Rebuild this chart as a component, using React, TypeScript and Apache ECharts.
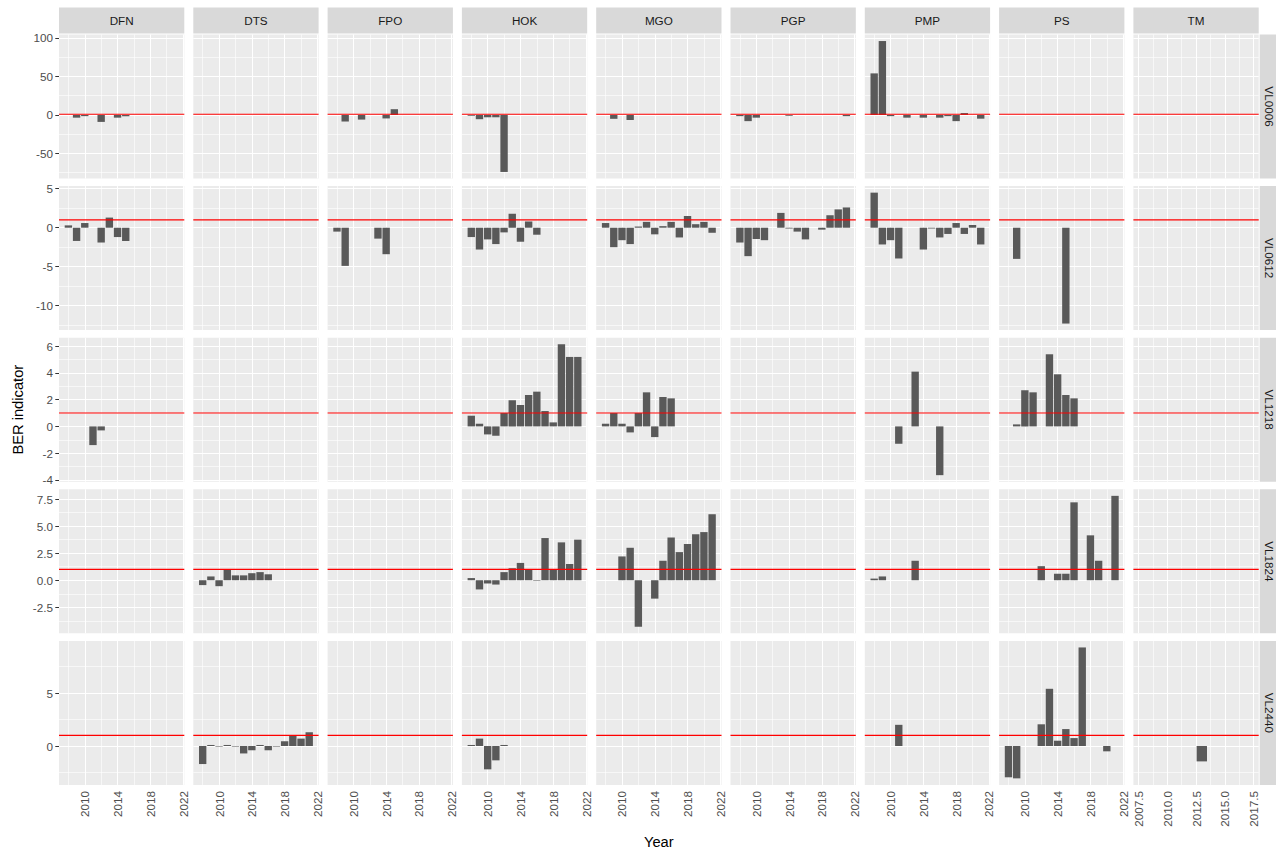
import React, { useEffect, useRef } from "react";
import * as echarts from "echarts";

// ---------- data ----------
const regions = ["DFN", "DTS", "FPO", "HOK", "MGO", "PGP", "PMP", "PS", "TM"];
const lengthClasses = ["VL0006", "VL0612", "VL1218", "VL1824", "VL2440"];
const years = [2008, 2009, 2010, 2011, 2012, 2013, 2014, 2015, 2016, 2017, 2018, 2019, 2020, 2021];
const tmYears = [2008, 2009, 2010, 2011, 2012, 2013, 2014, 2015, 2016, 2017];
const threshold = 1;

const xTicks = [2010, 2014, 2018, 2022];
const xMinor = [2008, 2012, 2016, 2020];
const tmTicks = [2007.5, 2010, 2012.5, 2015, 2017.5];
const tmMinor = [2008.75, 2011.25, 2013.75, 2016.25];

const yTicks = [
  [-50, 0, 50, 100],
  [-10, -5, 0, 5],
  [-4, -2, 0, 2, 4, 6],
  [-2.5, 0, 2.5, 5, 7.5],
  [0, 5],
];
const yMinor = [
  [-75, -25, 25, 75],
  [-12.5, -7.5, -2.5, 2.5],
  [-3, -1, 1, 3, 5],
  [-3.75, -1.25, 1.25, 3.75, 6.25],
  [-2.5, 2.5, 7.5],
];

const _ = null;
// VL0006 (years 2008..2021)
const vl0006_DFN = [_, -3.5, -1.5, _, -9, _, -3.5, -1.5, _, _, _, _, _, _];
const vl0006_FPO = [_, -8.5, _, -6, _, _, -4.5, 7.5, _, _, _, _, _, _];
const vl0006_HOK = [-1, -5.5, -3, -3, -74, _, _, _, _, _, _, _, _, _];
const vl0006_MGO = [_, -5, _, -6.5, _, _, _, _, _, _, _, _, _, _];
const vl0006_PGP = [-1.5, -8, -3.5, _, _, _, -1, _, _, _, _, _, _, -1.5];
const vl0006_PMP = [54, 96, -1.5, _, -3.5, _, -3.5, _, -3.5, -1.5, -8, 2.5, _, -4.8];
// VL0612
const vl0612_DFN = [0.3, -1.7, 0.6, _, -1.9, 1.3, -1.2, -1.7, _, _, _, _, _, _];
const vl0612_FPO = [-0.5, -4.9, _, _, _, -1.4, -3.4, _, _, _, _, _, _, _];
const vl0612_HOK = [-1.2, -2.8, -1.5, -2.1, -0.6, 1.8, -1.8, 0.8, -0.9, _, _, _, _, _];
const vl0612_MGO = [0.6, -2.5, -1.6, -2.1, 0.15, 0.75, -0.85, 0.2, 0.75, -1.25, 1.5, 0.45, 0.75, -0.65];
const vl0612_PGP = [-1.9, -3.65, -1.45, -1.6, _, 1.9, -0.1, -0.5, -1.5, _, -0.25, 1.6, 2.35, 2.6];
const vl0612_PMP = [4.5, -2.15, -1.6, -3.95, _, _, -2.8, -0.1, -1.25, -0.8, 0.6, -0.8, 0.35, -2.15];
const vl0612_PS = [_, -4.0, _, _, _, _, _, -12.3, _, _, _, _, _, _];
// VL1218
const vl1218_DFN = [_, _, _, -1.4, -0.3, _, _, _, _, _, _, _, _, _];
const vl1218_HOK = [0.8, 0.2, -0.6, -0.7, 1.0, 1.95, 1.6, 2.35, 2.6, 1.15, 0.3, 6.15, 5.2, 5.2];
const vl1218_MGO = [0.2, 1.0, 0.2, -0.45, 1.0, 2.55, -0.8, 2.2, 2.1, _, _, _, _, _];
const vl1218_PMP = [_, _, _, -1.3, _, 4.1, _, _, -3.65, _, _, _, _, _];
const vl1218_PS = [_, 0.15, 2.7, 2.55, _, 5.4, 3.9, 2.35, 2.1, _, _, _, _, _];
// VL1824
const vl1824_DTS = [-0.45, 0.35, -0.55, 1.0, 0.45, 0.45, 0.65, 0.75, 0.55, _, _, _, _, _];
const vl1824_HOK = [0.2, -0.85, -0.3, -0.4, 0.75, 1.1, 1.6, 1.0, -0.05, 3.9, 1.0, 3.5, 1.5, 3.75];
const vl1824_MGO = [_, _, 2.2, 3.0, -4.3, _, -1.7, 1.8, 3.95, 2.6, 3.35, 4.25, 4.45, 6.1];
const vl1824_PMP = [0.15, 0.35, _, _, _, 1.8, _, _, _, _, _, _, _, _];
const vl1824_PS = [_, _, _, _, 1.3, _, 0.6, 0.6, 7.2, _, 4.15, 1.8, _, 7.8];
// VL2440
const vl2440_DTS = [-1.7, 0.1, -0.05, 0.1, -0.05, -0.7, -0.4, 0.1, -0.4, -0.05, 0.45, 0.95, 0.7, 1.3];
const vl2440_HOK = [0.1, 0.7, -2.2, -1.35, 0.1, _, _, _, _, _, _, _, _, _];
const vl2440_PMP = [_, _, _, 2.0, _, _, _, _, _, _, _, _, _, _];
const vl2440_PS = [-2.95, -3.05, _, _, 2.05, 5.4, 0.5, 1.6, 0.75, 9.3, _, _, -0.5, _];
const vl2440_TM = [_, _, _, _, _, -1.45, _, _, _, _]; // tmYears

const panelData: Record<string, (number | null)[]> = {
  "VL0006|DFN": vl0006_DFN, "VL0006|FPO": vl0006_FPO, "VL0006|HOK": vl0006_HOK,
  "VL0006|MGO": vl0006_MGO, "VL0006|PGP": vl0006_PGP, "VL0006|PMP": vl0006_PMP,
  "VL0612|DFN": vl0612_DFN, "VL0612|FPO": vl0612_FPO, "VL0612|HOK": vl0612_HOK,
  "VL0612|MGO": vl0612_MGO, "VL0612|PGP": vl0612_PGP, "VL0612|PMP": vl0612_PMP,
  "VL0612|PS": vl0612_PS,
  "VL1218|DFN": vl1218_DFN, "VL1218|HOK": vl1218_HOK, "VL1218|MGO": vl1218_MGO,
  "VL1218|PMP": vl1218_PMP, "VL1218|PS": vl1218_PS,
  "VL1824|DTS": vl1824_DTS, "VL1824|HOK": vl1824_HOK, "VL1824|MGO": vl1824_MGO,
  "VL1824|PMP": vl1824_PMP, "VL1824|PS": vl1824_PS,
  "VL2440|DTS": vl2440_DTS, "VL2440|HOK": vl2440_HOK, "VL2440|PMP": vl2440_PMP,
  "VL2440|PS": vl2440_PS, "VL2440|TM": vl2440_TM,
};

// ---------- layout ----------
const PANEL_LEFT = 59;
const PANEL_STEP_X = 134.3;
const PANEL_W = 125.3;
const PANEL_TOP = 34.5;
const PANEL_STEP_Y = 151.6;
const PANEL_H = 144;
const STRIP = 26;
const FONT = '"Liberation Sans", Arial, sans-serif';
const RED = "#FF0000";

function expandX(ys: number[]): [number, number] {
  const lo = Math.min(...ys) - 0.45;
  const hi = Math.max(...ys) + 0.45;
  const pad = (hi - lo) * 0.05;
  return [lo - pad, hi + pad];
}

function expandY(vals: number[]): [number, number] {
  const lo = Math.min(0, threshold, ...vals);
  const hi = Math.max(0, threshold, ...vals);
  const pad = (hi - lo) * 0.05;
  return [lo - pad, hi + pad];
}

function buildOption() {
  const grids: any[] = [];
  const xAxes: any[] = [];
  const yAxes: any[] = [];
  const series: any[] = [];
  const graphics: any[] = [];

  const rowRanges = lengthClasses.map((lc) => {
    const vals: number[] = [];
    regions.forEach((rg) => {
      const d = panelData[lc + "|" + rg];
      if (d) d.forEach((v) => { if (v !== null) vals.push(v); });
    });
    return expandY(vals);
  });

  lengthClasses.forEach((lc, r) => {
    regions.forEach((rg, c) => {
      const i = r * regions.length + c;
      const left = PANEL_LEFT + c * PANEL_STEP_X;
      const top = PANEL_TOP + r * PANEL_STEP_Y;
      const isTM = rg === "TM";
      const yrs = isTM ? tmYears : years;
      const [xmin, xmax] = expandX(yrs);
      const [ymin, ymax] = rowRanges[r];
      const xt = isTM ? tmTicks : xTicks;
      const xm = isTM ? tmMinor : xMinor;
      const bottomRow = r === lengthClasses.length - 1;
      const firstCol = c === 0;

      grids.push({
        left, top, width: PANEL_W, height: PANEL_H,
        show: true, backgroundColor: "#EBEBEB", borderWidth: 0,
        containLabel: false,
      });
      xAxes.push({
        type: "value", gridIndex: i, min: xmin, max: xmax,
        axisLine: { show: false },
        splitLine: { show: false },
        axisTick: {
          show: bottomRow, length: 3.7, customValues: xt,
          lineStyle: { color: "#333333", width: 1 },
        },
        axisLabel: {
          show: bottomRow, rotate: 90, margin: 6, customValues: xt,
          color: "#4D4D4D", fontSize: 11.7, fontFamily: FONT,
          formatter: (v: number) => (isTM ? v.toFixed(1) : String(v)),
        },
      });
      yAxes.push({
        type: "value", gridIndex: i, min: ymin, max: ymax,
        axisLine: { show: false },
        splitLine: { show: false },
        axisTick: {
          show: firstCol, length: 3.7, customValues: yTicks[r],
          lineStyle: { color: "#333333", width: 1 },
        },
        axisLabel: {
          show: firstCol, margin: 6, customValues: yTicks[r],
          color: "#4D4D4D", fontSize: 11.7, fontFamily: FONT,
          formatter: (v: number) => (r === 3 ? v.toFixed(1) : String(v)),
        },
      });

      // grid lines
      const gl: any[] = [];
      xm.forEach((v) => {
        if (v > xmin && v < xmax) gl.push({ xAxis: v, lineStyle: { color: "#FFFFFF", width: 0.6, type: "solid" } });
      });
      yMinor[r].forEach((v) => {
        if (v > ymin && v < ymax) gl.push({ yAxis: v, lineStyle: { color: "#FFFFFF", width: 0.6, type: "solid" } });
      });
      xt.forEach((v) => {
        if (v >= xmin && v <= xmax) gl.push({ xAxis: v, lineStyle: { color: "#FFFFFF", width: 1.1, type: "solid" } });
      });
      yTicks[r].forEach((v) => {
        if (v >= ymin && v <= ymax) gl.push({ yAxis: v, lineStyle: { color: "#FFFFFF", width: 1.1, type: "solid" } });
      });
      series.push({
        type: "line", xAxisIndex: i, yAxisIndex: i, data: [], silent: true, z: 1,
        markLine: {
          silent: true, z: 1, symbol: ["none", "none"], label: { show: false },
          emphasis: { disabled: true }, animation: false,
          lineStyle: { type: "solid", color: "#FFFFFF" },
          data: gl,
        },
      });

      const d = panelData[lc + "|" + rg];
      if (d) {
        const pts: number[][] = [];
        d.forEach((v, k) => { if (v !== null) pts.push([yrs[k], v]); });
        series.push({
          type: "bar", xAxisIndex: i, yAxisIndex: i, data: pts, z: 2,
          barWidth: (0.9 * PANEL_W) / (xmax - xmin),
          itemStyle: { color: "#595959" },
          silent: true,
        });
      }

      // threshold reference line spanning the panel
      series.push({
        type: "line", xAxisIndex: i, yAxisIndex: i, silent: true, z: 5,
        data: [[xmin, threshold], [xmax, threshold]],
        symbol: "none", showSymbol: false,
        color: RED,
        lineStyle: { color: RED, width: 1.1, type: "solid" },
        emphasis: { disabled: true },
      });
    });
  });

  // strips on top
  regions.forEach((rg, c) => {
    const left = PANEL_LEFT + c * PANEL_STEP_X;
    graphics.push({
      type: "rect", silent: true,
      shape: { x: left, y: PANEL_TOP - STRIP - 1, width: PANEL_W, height: STRIP },
      style: { fill: "#D9D9D9" },
    });
    graphics.push({
      type: "text", silent: true,
      style: {
        text: rg, x: left + PANEL_W / 2, y: PANEL_TOP - 1 - STRIP / 2,
        align: "center", verticalAlign: "middle",
        fill: "#1A1A1A", font: `11.7px ${FONT}`,
      },
    });
  });
  // strips on right
  const stripX = PANEL_LEFT + (regions.length - 1) * PANEL_STEP_X + PANEL_W + 1;
  lengthClasses.forEach((lc, r) => {
    const top = PANEL_TOP + r * PANEL_STEP_Y;
    graphics.push({
      type: "rect", silent: true,
      shape: { x: stripX, y: top, width: STRIP, height: PANEL_H },
      style: { fill: "#D9D9D9" },
    });
    graphics.push({
      type: "text", silent: true,
      x: stripX + 10, y: top + PANEL_H / 2, rotation: -Math.PI / 2,
      style: {
        text: lc, x: 0, y: 0, align: "center", verticalAlign: "middle",
        fill: "#1A1A1A", font: `11.7px ${FONT}`,
      },
    });
  });
  // axis titles
  const panelsRight = PANEL_LEFT + (regions.length - 1) * PANEL_STEP_X + PANEL_W;
  const panelsBottom = PANEL_TOP + (lengthClasses.length - 1) * PANEL_STEP_Y + PANEL_H;
  graphics.push({
    type: "text", silent: true,
    style: {
      text: "Year", x: (PANEL_LEFT + panelsRight) / 2, y: 842,
      align: "center", verticalAlign: "middle", fill: "#000000", font: `14.7px ${FONT}`,
    },
  });
  graphics.push({
    type: "text", silent: true,
    x: 18, y: (PANEL_TOP + panelsBottom) / 2, rotation: Math.PI / 2,
    style: {
      text: "BER indicator", x: 0, y: 0, align: "center", verticalAlign: "middle",
      fill: "#000000", font: `14.7px ${FONT}`,
    },
  });

  return {
    animation: false,
    backgroundColor: "#FFFFFF",
    grid: grids,
    xAxis: xAxes,
    yAxis: yAxes,
    series,
    graphic: graphics,
  };
}

export default function App() {
  const ref = useRef<HTMLDivElement>(null);
  useEffect(() => {
    if (!ref.current) return;
    const chart = echarts.init(ref.current, null, { renderer: "svg" });
    chart.setOption(buildOption() as any);
    return () => chart.dispose();
  }, []);
  return (
    <div
      ref={ref}
      style={{ position: "fixed", left: 0, top: 0, width: 1276, height: 852 }}
    />
  );
}
